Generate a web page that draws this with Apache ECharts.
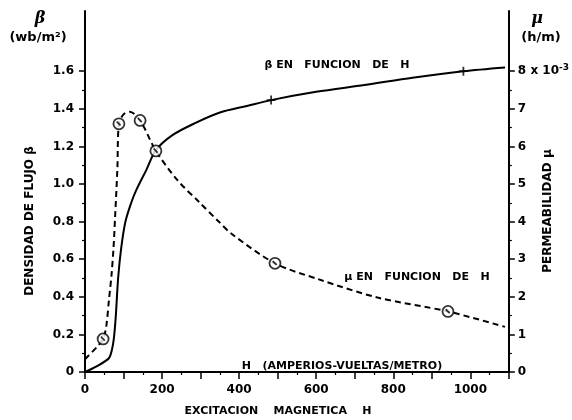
<!DOCTYPE html>
<html>
<head>
<meta charset="utf-8">
<script src="https://cdn.jsdelivr.net/npm/echarts@6/dist/echarts.min.js"></script>
<style>html,body{margin:0;padding:0;background:#fff}#c{width:572px;height:420px}</style>
</head>
<body>
<div id="c"></div>
<script>
// --- data ---
const xTickLabels = [0, 200, 400, 600, 800, 1000];
const betaTicks = [0, 0.2, 0.4, 0.6, 0.8, 1.0, 1.2, 1.4, 1.6];
const betaMinorTicks = [0.1, 0.3, 0.5, 0.7, 0.9, 1.1, 1.3, 1.5];
const muTicks = [0, 1, 2, 3, 4, 5, 6, 7, 8];
const muMinorTicks = [0.5, 1.5, 2.5, 3.5, 4.5, 5.5, 6.5, 7.5];

// B vs H (solid), H in A-v/m, B in Wb/m2
const hBeta = [0, 30, 62, 70, 75, 80, 86, 94, 105, 120, 133, 159, 184, 227, 287, 350, 420, 483, 600, 725, 850, 982, 1090];
const beta  = [0, 0.03, 0.073, 0.12, 0.18, 0.3, 0.5, 0.66, 0.8, 0.9, 0.967, 1.074, 1.18, 1.26, 1.325, 1.38, 1.415, 1.446, 1.49, 1.526, 1.565, 1.60, 1.62];
// mu vs H (dashed), mu in 1e-3 h/m
const hMu = [0, 33, 47, 55, 62, 69, 74, 78, 84, 88, 100, 116, 143, 184, 240, 296, 347, 381, 493, 605, 759, 942, 1090];
const mu  = [0.34, 0.69, 0.88, 1.2, 1.9, 2.6, 3.3, 4.1, 5.4, 6.6, 6.85, 6.92, 6.69, 5.88, 5.1, 4.52, 4.0, 3.67, 2.89, 2.47, 1.98, 1.61, 1.2];
// marked points
const hBetaMarks = [483, 982];
const betaMarks  = [1.446, 1.60];
const hMuMarks = [47, 88, 143, 184, 493, 942];
const muMarks  = [0.88, 6.6, 6.69, 5.88, 2.89, 1.61];

const zip = (a, b) => a.map((v, i) => [v, b[i]]);
const FONT = 'DejaVu Sans';
const lbl = {color: '#000', fontFamily: FONT, fontWeight: 'bold', fontSize: 12};
const circleSym = 'path://M10,0A10,10,0,1,1,-10,0A10,10,0,1,1,10,0Z M-4,-4L3,3';
const plusSym = 'path://M-10,0L10,0M0,-10L0,10';
const tf = (size) => 'bold ' + size + 'px "DejaVu Sans"';

const chart = echarts.init(document.getElementById('c'), null, {renderer: 'canvas'});
const yMaxB = 1.92, yMaxMu = 9.6;
chart.setOption({
  backgroundColor: '#fff',
  animation: false,
  grid: {left: 85, right: 63, top: 11, bottom: 48},
  xAxis: {
    type: 'value', min: 0, max: 1100, interval: 100,
    axisLine: {lineStyle: {color: '#000', width: 2}},
    axisTick: {length: 7, lineStyle: {color: '#000', width: 1.5}},
    minorTick: {show: true, splitNumber: 2, length: 3, lineStyle: {color: '#000', width: 1.2}},
    splitLine: {show: false},
    axisLabel: Object.assign({margin: 12, formatter: v => (xTickLabels.indexOf(v) >= 0 ? String(v) : '')}, lbl)
  },
  yAxis: [
    {
      type: 'value', min: 0, max: yMaxB, position: 'left',
      axisLine: {show: true, lineStyle: {color: '#000', width: 2}},
      axisTick: {show: true, length: 6, customValues: betaTicks, lineStyle: {color: '#000', width: 1.5}},
      splitLine: {show: false},
      axisLabel: Object.assign({margin: 11, customValues: betaTicks, formatter: v => v === 0 ? '0' : v.toFixed(1)}, lbl)
    },
    {
      type: 'value', min: 0, max: yMaxMu, position: 'right',
      axisLine: {show: true, lineStyle: {color: '#000', width: 2}},
      axisTick: {show: true, length: 6, customValues: muTicks, lineStyle: {color: '#000', width: 1.5}},
      splitLine: {show: false},
      axisLabel: Object.assign({margin: 9, customValues: muTicks,
        formatter: v => v === 8 ? '8 x 10{sup|-3}' : String(v),
        rich: {sup: {fontFamily: FONT, fontWeight: 'bold', fontSize: 9, verticalAlign: 'bottom', padding: [0, 0, 8, 0]}}}, lbl)
    },
    {
      type: 'value', min: 0, max: yMaxB, position: 'left',
      axisLine: {show: false},
      axisTick: {show: true, length: 3, customValues: betaMinorTicks, lineStyle: {color: '#000', width: 1.2}},
      splitLine: {show: false},
      axisLabel: {show: false}
    },
    {
      type: 'value', min: 0, max: yMaxMu, position: 'right',
      axisLine: {show: false},
      axisTick: {show: true, length: 3, customValues: muMinorTicks, lineStyle: {color: '#000', width: 1.2}},
      splitLine: {show: false},
      axisLabel: {show: false}
    }
  ],
  series: [
    {type: 'line', yAxisIndex: 0, data: zip(hBeta, beta), smooth: 0.3, showSymbol: false,
     lineStyle: {color: '#000', width: 2}},
    {type: 'line', yAxisIndex: 1, data: zip(hMu, mu), smooth: 0.3, showSymbol: false,
     lineStyle: {color: '#000', width: 2, type: [6, 4]}},
    {type: 'scatter', yAxisIndex: 0, data: zip(hBetaMarks, betaMarks), symbol: plusSym, symbolSize: 9, z: 5,
     itemStyle: {color: 'none', borderColor: '#000', borderWidth: 1.8}},
    {type: 'scatter', yAxisIndex: 1, data: zip(hMuMarks, muMarks), symbol: circleSym, symbolSize: 11, z: 5,
     itemStyle: {color: '#fff', borderColor: '#000', borderWidth: 1.8}}
  ],
  graphic: [
    {type: 'text', x: 40, y: 19, style: {text: 'β', font: 'italic bold 16px "DejaVu Serif"', fill: '#000', align: 'center', verticalAlign: 'middle'}},
    {type: 'text', x: 38, y: 38, style: {text: '(wb/m²)', font: tf(13), fill: '#000', align: 'center', verticalAlign: 'middle'}},
    {type: 'text', x: 537, y: 19, style: {text: 'μ', font: 'italic bold 16px "DejaVu Serif"', fill: '#000', align: 'center', verticalAlign: 'middle'}},
    {type: 'text', x: 541, y: 38, style: {text: '(h/m)', font: tf(13), fill: '#000', align: 'center', verticalAlign: 'middle'}},
    {type: 'text', x: 30, y: 221, rotation: Math.PI / 2, style: {text: 'DENSIDAD DE FLUJO β', font: tf(12), fill: '#000', align: 'center', verticalAlign: 'middle'}},
    {type: 'text', x: 548, y: 211, rotation: Math.PI / 2, style: {text: 'PERMEABILIDAD μ', font: tf(12), fill: '#000', align: 'center', verticalAlign: 'middle'}},
    {type: 'text', x: 278, y: 411, style: {text: 'EXCITACION    MAGNETICA    H', font: tf(11), fill: '#000', align: 'center', verticalAlign: 'middle'}},
    {type: 'text', x: 342, y: 366, style: {text: 'H   (AMPERIOS-VUELTAS/METRO)', font: tf(11), fill: '#000', align: 'center', verticalAlign: 'middle'}},
    {type: 'text', x: 337, y: 65, style: {text: 'β EN   FUNCION   DE   H', font: tf(11), fill: '#000', align: 'center', verticalAlign: 'middle'}},
    {type: 'text', x: 417, y: 277, style: {text: 'μ EN   FUNCION   DE   H', font: tf(11), fill: '#000', align: 'center', verticalAlign: 'middle'}}
  ]
});
</script>
</body>
</html>
